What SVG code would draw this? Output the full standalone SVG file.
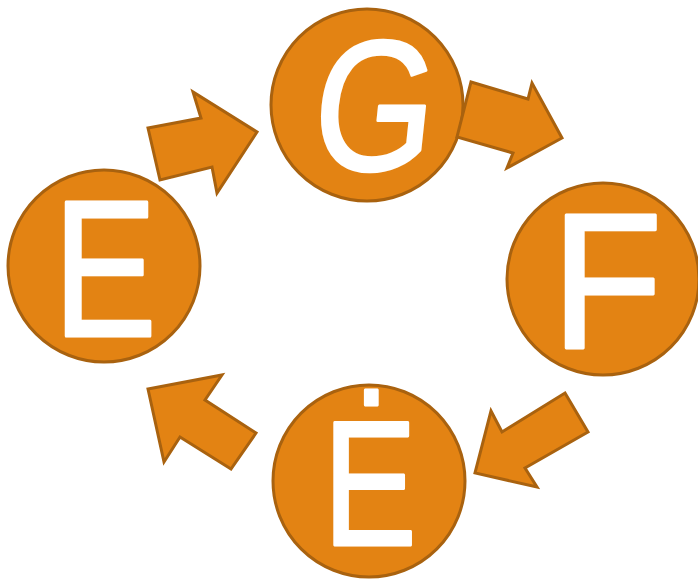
<svg xmlns="http://www.w3.org/2000/svg" width="698" height="580" viewBox="0 0 698 580">
<style>
.node{fill:#E38313;stroke:#A9620F;stroke-width:3}
.arrow{fill:#E38313;stroke:#A9620F;stroke-width:3;stroke-linejoin:miter}
.lbl{font-family:"Liberation Sans",Arial,sans-serif;fill:#FFFFFF;stroke:#FFFFFF;stroke-width:3;stroke-linejoin:round;text-anchor:middle}
</style>
<rect width="698" height="580" fill="#FFFFFF"/>
<g id="node-G">
<circle class="node" cx="367" cy="105" r="96"/>
<text class="lbl" font-size="186" transform="translate(369,170) skewX(-6) scale(0.84,1)">G</text>
</g>
<g id="node-E">
<circle class="node" cx="104" cy="266" r="96"/>
<text class="lbl" font-size="194" transform="translate(105,336) scale(0.8,1)">E</text>
</g>
<g id="node-F">
<circle class="node" cx="603" cy="279" r="96"/>
<text class="lbl" font-size="194" transform="translate(607,348) scale(0.94,1)">F</text>
</g>
<g id="node-Edot">
<circle class="node" cx="369" cy="481" r="96"/>
<text class="lbl" font-size="178" transform="translate(370,545) scale(0.79,1)">Ė</text>
</g>
<g id="connectors">
<polygon class="arrow" points="148,128 201,118 193,92 257,132 217,193 212,167 160,180"/>
<polygon class="arrow" points="471,82 528,99 532,83 562,138 507,168 513,153 457,137"/>
<polygon class="arrow" points="565,393 588,432 525,468 537,487 475,473 491,411 502,432"/>
<polygon class="arrow" points="148,389 222,375 205,400 256,433 231,469 180,437 164,462"/>
</g>
</svg>
